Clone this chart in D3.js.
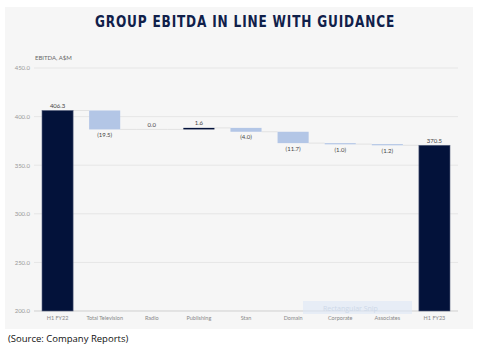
<!DOCTYPE html>
<html>
<head>
<meta charset="utf-8">
<script src="https://cdn.jsdelivr.net/npm/d3@7"></script>
<style>
body{margin:0;background:#fff;}
</style>
</head>
<body>
<div id="container"></div>
<script>
let w = 483;
let h = 351;

// data
let categories = ["H1 FY22","Total Television","Radio","Publishing","Stan","Domain","Corporate","Associates","H1 FY23"];
let values = [406.3, -19.5, 0.0, 1.6, -4.0, -11.7, -1.0, -1.2, 370.5];
let isTotal = [true,false,false,false,false,false,false,false,true];
let yTicks = [200,250,300,350,400,450];

let viz = d3.select("#container")
  .append("svg")
  .attr("width", w)
  .attr("height", h);

// grey panel
viz.append("rect")
  .attr("x",5).attr("y",7).attr("width",468).attr("height",322)
  .attr("fill","#f6f6f6");

viz.append("text")
  .attr("x",245).attr("y",27.3)
  .attr("text-anchor","middle")
  .attr("textLength",300)
  .attr("lengthAdjust","spacingAndGlyphs")
  .style("font-family","'DejaVu Sans Condensed','DejaVu Sans',sans-serif")
  .style("font-weight","bold")
  .style("font-size","16.5px")
  .style("letter-spacing","1px")
  .style("fill","#10204a")
  .text("GROUP EBITDA IN LINE WITH GUIDANCE");

viz.append("text")
  .attr("x",35).attr("y",60)
  .style("font-family","Lato, sans-serif")
  .style("font-size","6px")
  .style("fill","#666")
  .text("EBITDA, A$M");

let xScale = d3.scaleBand().domain(categories).range([34,458]).paddingInner(0.34).paddingOuter(0.17);
let yScale = d3.scaleLinear().domain([200,450]).range([311,68]);

// gridlines
let grid = viz.append("g").attr("class","grid");
grid.selectAll("line").data(yTicks).enter().append("line")
  .attr("x1",34).attr("x2",458)
  .attr("y1",d=>yScale(d)).attr("y2",d=>yScale(d))
  .attr("stroke",d=>d==200?"#cfcfcf":"#e6e6e6")
  .attr("stroke-width",1);

let yAxis = d3.axisLeft(yScale).tickValues(yTicks).tickFormat(d3.format(".1f")).tickSize(0).tickPadding(4);
let yAxisGroup = viz.append("g").attr("transform","translate(34,0)").call(yAxis);
yAxisGroup.select(".domain").remove();
yAxisGroup.selectAll("text")
  .style("font-family","Lato, sans-serif")
  .style("font-size","6px")
  .style("fill","#999");

// waterfall calc
let running = 0;
let bars = [];
for (let i = 0; i < categories.length; i++) {
  let v = values[i];
  if (isTotal[i]) {
    bars.push({cat:categories[i], v:v, lo:200, hi:v, end:v, total:true});
    running = v;
  } else {
    let start = running;
    let end = running + v;
    bars.push({cat:categories[i], v:v, lo:Math.min(start,end), hi:Math.max(start,end), end:end, total:false});
    running = end;
  }
}

// connectors
let conn = viz.append("g");
for (let i = 0; i < bars.length-1; i++) {
  let level = bars[i].end;
  conn.append("line")
    .attr("x1", xScale(bars[i].cat)+xScale.bandwidth())
    .attr("x2", xScale(bars[i+1].cat))
    .attr("y1", yScale(level)).attr("y2", yScale(level))
    .attr("stroke","#e2e2e2").attr("stroke-width",1);
}
// radio zero line
let radio = bars[2];
conn.append("line")
  .attr("x1",xScale(radio.cat)).attr("x2",xScale(radio.cat)+xScale.bandwidth())
  .attr("y1",yScale(radio.end)).attr("y2",yScale(radio.end))
  .attr("stroke","#e2e2e2").attr("stroke-width",1);

function getColor(d){
  if (d.total || d.v > 0) return "#03123a";
  return "#b3c6e6";
}

viz.append("g").selectAll("rect").data(bars.filter(d=>d.v!=0)).enter().append("rect")
  .attr("x",d=>xScale(d.cat))
  .attr("width",xScale.bandwidth())
  .attr("y",d=>yScale(d.hi))
  .attr("height",d=>Math.max(1.2,yScale(d.lo)-yScale(d.hi)))
  .attr("fill",getColor)
  .attr("stroke",d=>d.total?"#5a6480":"none")
  .attr("stroke-width",0.6);

function labelText(d){
  if (d.v < 0) return "(" + Math.abs(d.v).toFixed(1) + ")";
  return d.v.toFixed(1);
}
viz.append("g").selectAll("text").data(bars).enter().append("text")
  .attr("x",d=>xScale(d.cat)+xScale.bandwidth()/2)
  .attr("y",d=> d.v<0 ? yScale(d.lo)+7.5 : yScale(d.hi)-2.5)
  .attr("text-anchor","middle")
  .style("font-family","Lato, sans-serif")
  .style("font-size","6px")
  .style("fill","#444")
  .text(labelText);

// x axis labels
let xAxis = d3.axisBottom(xScale).tickSize(0).tickPadding(5);
let xAxisGroup = viz.append("g").attr("transform","translate(0,311)").call(xAxis);
xAxisGroup.select(".domain").remove();
xAxisGroup.selectAll("text")
  .style("font-family","Lato, sans-serif")
  .style("font-size","5.5px")
  .style("fill","#888");

// faint snip artifact
viz.append("rect").attr("x",303).attr("y",301).attr("width",109).attr("height",13)
  .attr("fill","#dde8f6").attr("opacity",0.6);
viz.append("text").attr("x",323).attr("y",311)
  .style("font-family","'Open Sans', sans-serif").style("font-size","7px")
  .style("fill","#cdd8e8").text("Rectangular Snip");

viz.append("text")
  .attr("x",8).attr("y",342)
  .style("font-family","'Open Sans', sans-serif")
  .style("font-size","9.5px")
  .style("fill","#111")
  .text("(Source: Company Reports)");
</script>
</body>
</html>
